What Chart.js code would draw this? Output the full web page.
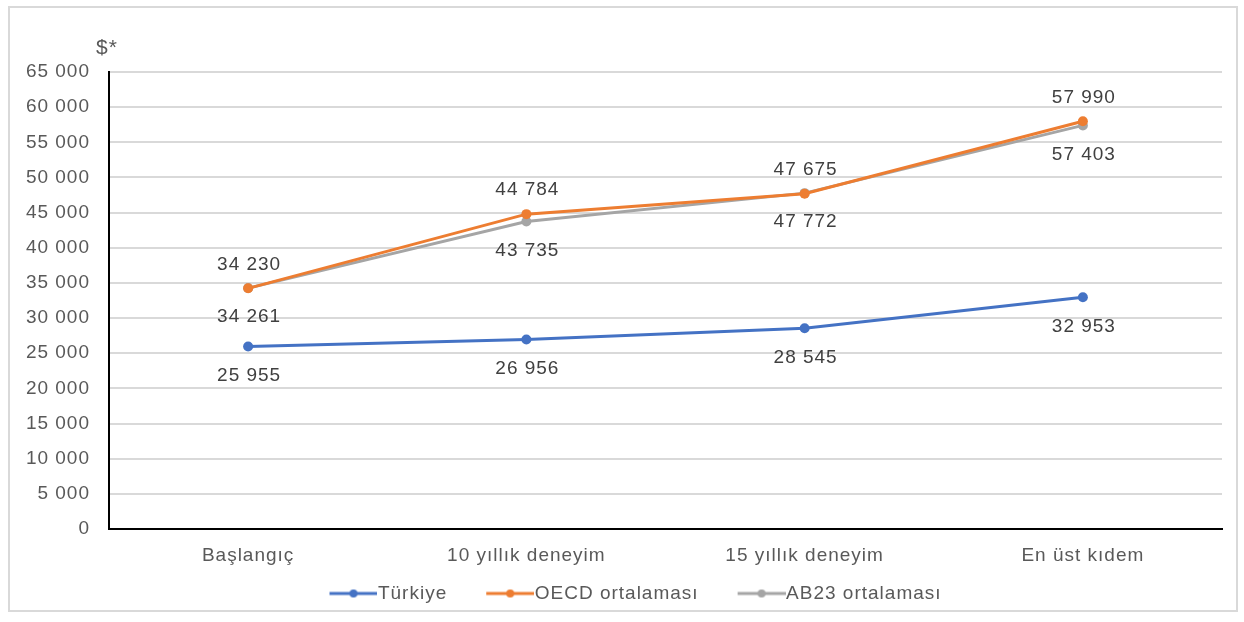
<!DOCTYPE html>
<html>
<head>
<meta charset="utf-8">
<title>Öğretmen maaşları</title>
<script src="https://cdn.jsdelivr.net/npm/chart.js@4.4.1/dist/chart.umd.min.js"></script>
<style>
  html, body { margin: 0; padding: 0; background: #fff; }
  #frame { position: absolute; left: 8px; top: 6px; width: 1230px; height: 606px; border: 2px solid #d9d9d9; box-sizing: border-box; }
  #wrap { position: absolute; left: 0; top: 0; width: 1244px; height: 622px; }
</style>
</head>
<body>
<div id="frame"></div>
<div id="wrap"><canvas id="grafik"></canvas></div>
<script>
// kategoriler ve seriler
const kategoriler = ['Başlangıç', '10 yıllık deneyim', '15 yıllık deneyim', 'En üst kıdem'];
const turkiye = [25955, 26956, 28545, 32953];
const oecd = [34230, 44784, 47675, 57990];
const ab23 = [34261, 43735, 47772, 57403];
const yTikler = [0, 5000, 10000, 15000, 20000, 25000, 30000, 35000, 40000, 45000, 50000, 55000, 60000, 65000];

const FONT = '"Liberation Sans", Arial, sans-serif';

function binlik(v) {
  return String(v).replace(/\B(?=(\d{3})+(?!\d))/g, ' ');
}

// legend icin cizgi + nokta (solda bos alan, sag ucu yaziya degiyor)
function legendIkon(renk) {
  const c = document.createElement('canvas');
  c.width = 86; c.height = 12;
  const g = c.getContext('2d');
  g.strokeStyle = renk; g.lineWidth = 3;
  g.beginPath(); g.moveTo(38, 6); g.lineTo(86, 6); g.stroke();
  g.fillStyle = renk;
  g.beginPath(); g.arc(62, 6, 4, 0, Math.PI * 2); g.fill();
  return c;
}

// yazilar resimde biraz genis, harf araligi ekle
const aralik = {
  id: 'aralik',
  beforeUpdate(chart) { chart.ctx.letterSpacing = '1px'; },
  beforeDraw(chart) { chart.ctx.letterSpacing = '1px'; }
};

// veri etiketleri: OECD ustte, digerleri altta
const etiketler = {
  id: 'etiketler',
  afterDatasetsDraw(chart) {
    const ctx = chart.ctx;
    ctx.save();
    ctx.font = '19px ' + FONT;
    ctx.fillStyle = '#404040';
    ctx.textAlign = 'center';
    ctx.textBaseline = 'middle';
    chart.data.datasets.forEach((ds, i) => {
      const meta = chart.getDatasetMeta(i);
      meta.data.forEach((p, j) => {
        const dy = ds.etiketYeri === 'ust' ? -24 : 29;
        ctx.fillText(binlik(ds.data[j]), p.x + 1, p.y + dy);
      });
    });
    ctx.restore();
  }
};

const birim = {
  id: 'birim',
  afterDraw(chart) {
    const ctx = chart.ctx;
    ctx.save();
    ctx.font = '21px ' + FONT;
    ctx.fillStyle = '#595959';
    ctx.textAlign = 'left';
    ctx.textBaseline = 'middle';
    ctx.fillText('$*', 96, 48);
    ctx.restore();
  }
};

const renkler = ['#4472C4', '#ED7D31', '#A5A5A5'];

new Chart(document.getElementById('grafik'), {
  type: 'line',
  data: {
    labels: kategoriler,
    datasets: [
      { label: 'Türkiye', data: turkiye, borderColor: renkler[0], backgroundColor: renkler[0], etiketYeri: 'alt' },
      { label: 'OECD ortalaması', data: oecd, borderColor: renkler[1], backgroundColor: renkler[1], etiketYeri: 'ust' },
      { label: 'AB23 ortalaması', data: ab23, borderColor: renkler[2], backgroundColor: renkler[2], etiketYeri: 'alt' }
    ]
  },
  options: {
    responsive: true,
    maintainAspectRatio: false,
    animation: false,
    layout: { padding: { left: 20, top: 72, right: 22, bottom: 9 } },
    elements: {
      line: { borderWidth: 3, tension: 0 },
      point: { radius: 5, hoverRadius: 5, borderWidth: 0 }
    },
    scales: {
      x: {
        offset: true,
        grid: { display: false, drawTicks: false },
        border: { display: true, color: '#000', width: 2 },
        ticks: { color: '#595959', font: { family: FONT, size: 19 }, padding: 15 },
        afterFit(s) { s.height = 45; }
      },
      y: {
        min: 0, max: 65000,
        afterBuildTicks(s) { s.ticks = yTikler.map(v => ({ value: v })); },
        grid: { color: '#d9d9d9', lineWidth: 2, drawTicks: false },
        border: { display: true, color: '#000', width: 2 },
        ticks: { color: '#595959', font: { family: FONT, size: 19 }, padding: 19, callback: v => binlik(v) },
        afterFit(s) { s.width = 89; }
      }
    },
    plugins: {
      tooltip: { enabled: false },
      legend: {
        position: 'bottom',
        labels: {
          color: '#595959',
          font: { family: FONT, size: 19 },
          usePointStyle: true,
          pointStyleWidth: 68,
          padding: 10,
          generateLabels(chart) {
            const items = Chart.defaults.plugins.legend.labels.generateLabels(chart);
            items.forEach((it, i) => { it.pointStyle = legendIkon(renkler[i]); });
            return items;
          }
        }
      }
    }
  },
  plugins: [aralik, etiketler, birim]
});
</script>
</body>
</html>
